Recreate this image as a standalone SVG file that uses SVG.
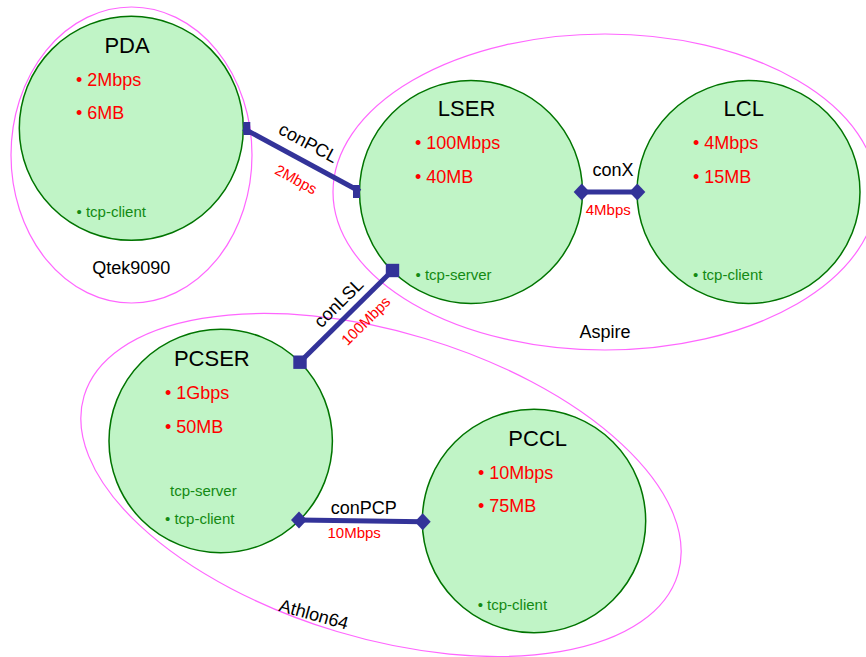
<svg xmlns="http://www.w3.org/2000/svg" width="866" height="657" viewBox="0 0 866 657">
  <style>
    text { font-family: "Liberation Sans", Arial, sans-serif; }
    .grp { fill: none; stroke: #ff66ff; stroke-width: 1.2; }
    .grp-label { font-size: 18px; fill: #000; text-anchor: middle; }
    .node { fill: #c0f4c6; stroke: #007400; stroke-width: 1.5; }
    .title { font-size: 22px; fill: #000; text-anchor: middle; }
    .prop { font-size: 18px; fill: #ff0000; }
    .proto { font-size: 15px; fill: #138a13; }
    .link { stroke: #333399; stroke-width: 5; fill: none; }
    .end { fill: #333399; }
    .cname { font-size: 18px; fill: #000; text-anchor: middle; }
    .bw { font-size: 15px; fill: #ff0000; text-anchor: middle; }
  </style>
  <defs>
    <path id="diamond" d="M0,-8.5 L8,0 L0,8.5 L-8,0 Z"/>
  </defs>

  <!-- host groupings -->
  <g id="host-qtek9090">
    <ellipse class="grp" cx="131.5" cy="155" rx="120.5" ry="148"/>
    <text class="grp-label" x="131.3" y="274">Qtek9090</text>
  </g>
  <g id="host-aspire">
    <ellipse class="grp" cx="605" cy="192" rx="272" ry="158"/>
    <text class="grp-label" x="605" y="338">Aspire</text>
  </g>
  <g id="host-athlon64">
    <ellipse class="grp" cx="381" cy="485" rx="310" ry="153" transform="rotate(16.7 381 485)"/>
    <text class="grp-label" transform="translate(314 614) rotate(15.5)" x="0" y="6.5">Athlon64</text>
  </g>

  <!-- nodes -->
  <g id="node-PDA">
    <circle class="node" cx="131.3" cy="128.3" r="112"/>
    <text class="title" x="127" y="53">PDA</text>
    <text class="prop" x="76" y="86">• 2Mbps</text>
    <text class="prop" x="76" y="119">• 6MB</text>
    <text class="proto" x="76.5" y="217">• tcp-client</text>
  </g>
  <g id="node-LSER">
    <circle class="node" cx="471" cy="192" r="111.5"/>
    <text class="title" x="466.6" y="116">LSER</text>
    <text class="prop" x="415" y="149">• 100Mbps</text>
    <text class="prop" x="415" y="182.5">• 40MB</text>
    <text class="proto" x="415.5" y="280">• tcp-server</text>
  </g>
  <g id="node-LCL">
    <circle class="node" cx="748.5" cy="192" r="111.5"/>
    <text class="title" x="743.7" y="116">LCL</text>
    <text class="prop" x="693" y="149">• 4Mbps</text>
    <text class="prop" x="693" y="182.5">• 15MB</text>
    <text class="proto" x="693" y="280">• tcp-client</text>
  </g>
  <g id="node-PCSER">
    <circle class="node" cx="220.7" cy="441" r="111.7"/>
    <text class="title" x="211.8" y="365.7">PCSER</text>
    <text class="prop" x="165" y="399">• 1Gbps</text>
    <text class="prop" x="165" y="432.7">• 50MB</text>
    <text class="proto" x="170" y="495.7">tcp-server</text>
    <text class="proto" x="165" y="524">• tcp-client</text>
  </g>
  <g id="node-PCCL">
    <circle class="node" cx="534" cy="521" r="111.7"/>
    <text class="title" x="537.7" y="445.7">PCCL</text>
    <text class="prop" x="478" y="479">• 10Mbps</text>
    <text class="prop" x="478" y="512.3">• 75MB</text>
    <text class="proto" x="477.7" y="610">• tcp-client</text>
  </g>

  <!-- connectors -->
  <g id="connectors">
    <g id="conPCL">
      <line class="link" x1="243.5" y1="128.5" x2="360" y2="191.5"/>
      <rect class="end" x="243.3" y="122" width="7" height="13"/>
      <rect class="end" x="353" y="185" width="7" height="13"/>
      <text class="cname" transform="translate(308 143.5) rotate(28.4)" x="0" y="5.5">conPCL</text>
      <text class="bw" transform="translate(295.5 180.5) rotate(28.4)" x="0" y="4">2Mbps</text>
    </g>
    <g id="conX">
      <line class="link" x1="581.7" y1="192" x2="637.3" y2="192"/>
      <use href="#diamond" class="end" x="581.7" y="192"/>
      <use href="#diamond" class="end" x="637.3" y="192"/>
      <text class="cname" x="613" y="175.7">conX</text>
      <text class="bw" x="608.3" y="215">4Mbps</text>
    </g>
    <g id="conLSL">
      <line class="link" x1="392.5" y1="270.5" x2="300" y2="362"/>
      <rect class="end" x="385.8" y="263.8" width="13.4" height="13.4"/>
      <rect class="end" x="293.3" y="355.5" width="13.4" height="13.4"/>
      <text class="cname" transform="translate(339 303.3) rotate(-44.8)" x="0" y="5.5">conLSL</text>
      <text class="bw" transform="translate(366.7 321.7) rotate(-44.8)" x="0" y="4">100Mbps</text>
    </g>
    <g id="conPCP">
      <line class="link" x1="299" y1="520" x2="422.7" y2="521.7"/>
      <use href="#diamond" class="end" x="299" y="520"/>
      <use href="#diamond" class="end" x="422.7" y="521.7"/>
      <text class="cname" x="363.7" y="514.3">conPCP</text>
      <text class="bw" x="354.2" y="538.3">10Mbps</text>
    </g>
  </g>
</svg>
